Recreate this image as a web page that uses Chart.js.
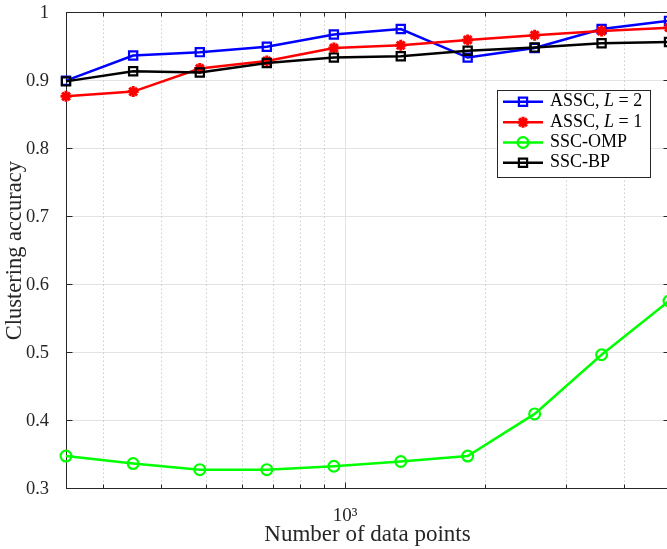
<!DOCTYPE html>
<html>
<head>
<meta charset="utf-8">
<title>Clustering accuracy</title>
<script src="https://cdn.jsdelivr.net/npm/chart.js@4.4.1/dist/chart.umd.min.js"></script>
<style>
  html, body { margin: 0; padding: 0; background: #fff; overflow: hidden; }
  #wrap { width: 667px; height: 549px; overflow: hidden; }
  #acc { display: block; }
</style>
</head>
<body>
<div id="wrap"><canvas id="acc" width="672" height="549"></canvas></div>
<script>
// number of data points (log spaced, 250 .. 5000)
const nPoints = [250, 349, 486, 678, 946, 1319, 1839, 2565, 3577, 5000];

// clustering accuracy for each method
const assc2  = [0.900, 0.937, 0.942, 0.950, 0.968, 0.976, 0.934, 0.948, 0.976, 0.988];
const assc1  = [0.877, 0.884, 0.918, 0.929, 0.948, 0.952, 0.960, 0.967, 0.973, 0.978];
const sscOmp = [0.348, 0.337, 0.328, 0.328, 0.333, 0.340, 0.348, 0.410, 0.497, 0.576];
const sscBp  = [0.899, 0.914, 0.912, 0.926, 0.934, 0.936, 0.944, 0.949, 0.955, 0.957];

// ticks: minor decade ticks on x, only 10^3 gets a label
const xTicks = [300, 400, 500, 600, 700, 800, 900, 1000, 2000, 3000, 4000];
const xMajor = [1000];
const xTickLabels = { 1000: '10³' };
const yTicks = [0.3, 0.4, 0.5, 0.6, 0.7, 0.8, 0.9, 1];

const SERIF = '"Liberation Serif", "Times New Roman", serif';
const AXIS = '#262626';

const pts = ys => nPoints.map((x, i) => ({ x: x, y: ys[i] }));

// grid, box and inward tick marks (matlab look), drawn under the lines
const frame = {
  id: 'frame',
  beforeDatasetsDraw(chart) {
    const { ctx, chartArea: a, scales: { x, y } } = chart;
    const L = Math.round(a.left) + 0.5, R = Math.round(a.right) + 0.5;
    const T = Math.floor(a.top) + 0.5, B = Math.floor(a.bottom) + 0.5;
    const seg = (x1, y1, x2, y2) => { ctx.beginPath(); ctx.moveTo(x1, y1); ctx.lineTo(x2, y2); ctx.stroke(); };
    ctx.save();
    ctx.lineWidth = 1;

    ctx.strokeStyle = '#e3e3e3';
    yTicks.forEach(v => {
      const py = Math.floor(y.getPixelForValue(v)) + 0.5;
      seg(L, py, R, py);
    });
    xTicks.forEach(v => {
      const px = Math.round(x.getPixelForValue(v)) + 0.5;
      if (xMajor.includes(v)) {
        ctx.strokeStyle = '#e3e3e3';
        ctx.setLineDash([]);
      } else {
        ctx.strokeStyle = '#cdcdcd';
        ctx.setLineDash([1.5, 2.5]);
      }
      seg(px, T, px, B);
    });
    ctx.setLineDash([]);

    ctx.strokeStyle = AXIS;
    ctx.strokeRect(L, T, R - L, B - T);
    yTicks.forEach(v => {
      const py = Math.floor(y.getPixelForValue(v)) + 0.5;
      seg(L, py, L + 6, py);
      seg(R, py, R - 6, py);
    });
    xTicks.forEach(v => {
      const px = Math.round(x.getPixelForValue(v)) + 0.5;
      const len = xMajor.includes(v) ? 6 : 4;
      seg(px, B, px, B - len);
      seg(px, T, px, T + len);
    });
    ctx.restore();
  },
  afterDatasetsDraw(chart) {
    const { ctx } = chart;
    const box = { x: 497.5, y: 90.5, w: 153, h: 87 };
    const rows = [101.7, 122.3, 142.5, 162.7];
    ctx.save();
    ctx.fillStyle = '#fff';
    ctx.fillRect(box.x, box.y, box.w, box.h);
    ctx.strokeStyle = AXIS;
    ctx.lineWidth = 1;
    ctx.strokeRect(box.x, box.y, box.w, box.h);

    chart.data.datasets.forEach((ds, i) => {
      const cy = rows[i];
      ctx.strokeStyle = ds.borderColor;
      ctx.lineWidth = ds.borderWidth;
      ctx.beginPath();
      ctx.moveTo(503, cy);
      ctx.lineTo(543, cy);
      ctx.stroke();
      ctx.fillStyle = ds.pointBackgroundColor;
      ctx.lineWidth = ds.pointBorderWidth;
      Chart.helpers.drawPoint(ctx, {
        pointStyle: ds.pointStyle, radius: ds.pointRadius, rotation: 0, borderWidth: ds.pointBorderWidth
      }, 523, cy);

      // label, with the L of "L = n" set in italics
      ctx.fillStyle = '#000';
      ctx.textBaseline = 'middle';
      let tx = 550;
      const m = ds.label.match(/^(.*?)(L)( = .*)$/);
      const parts = m ? [[m[1], ''], [m[2], 'italic '], [m[3], '']] : [[ds.label, '']];
      parts.forEach(([s, style]) => {
        ctx.font = style + '18px ' + SERIF;
        ctx.fillText(s, tx, cy);
        tx += ctx.measureText(s).width;
      });
    });
    ctx.restore();
  }
};

new Chart(document.getElementById('acc'), {
  type: 'line',
  data: {
    datasets: [{
      label: 'ASSC, L = 2',
      data: pts(assc2),
      borderColor: '#0000ff',
      borderWidth: 2.5,
      pointStyle: 'rect',
      pointRadius: 5.8,
      pointBorderWidth: 2.2,
      pointBorderColor: '#0000ff',
      pointBackgroundColor: 'rgba(0,0,0,0)',
      order: 3
    }, {
      label: 'ASSC, L = 1',
      data: pts(assc1),
      borderColor: '#ff0000',
      borderWidth: 2.5,
      pointStyle: 'star',
      pointRadius: 5.5,
      pointBorderWidth: 3,
      pointBorderColor: '#ff0000',
      pointBackgroundColor: '#ff0000',
      order: 2
    }, {
      label: 'SSC-OMP',
      data: pts(sscOmp),
      borderColor: '#00ff00',
      borderWidth: 2.5,
      pointStyle: 'circle',
      pointRadius: 5.4,
      pointBorderWidth: 2.2,
      pointBorderColor: '#00ff00',
      pointBackgroundColor: 'rgba(0,0,0,0)',
      order: 1
    }, {
      label: 'SSC-BP',
      data: pts(sscBp),
      borderColor: '#000000',
      borderWidth: 2.5,
      pointStyle: 'rect',
      pointRadius: 5.8,
      pointBorderWidth: 2.2,
      pointBorderColor: '#000000',
      pointBackgroundColor: 'rgba(0,0,0,0)',
      order: 0
    }]
  },
  options: {
    responsive: false,
    animation: false,
    devicePixelRatio: 1,
    clip: false,
    elements: { line: { tension: 0 } },
    layout: { autoPadding: false, padding: { top: 12.7, right: 3, bottom: 0, left: 0 } },
    plugins: { legend: { display: false }, tooltip: { enabled: false } },
    scales: {
      x: {
        type: 'logarithmic',
        min: 250,
        max: 5000,
        afterBuildTicks: s => { s.ticks = xTicks.map(v => ({ value: v, major: xMajor.includes(v) })); },
        afterFit: s => { s.height = 60.3; s.paddingLeft = 0; s.paddingRight = 0; },
        grid: { display: false },
        border: { display: false },
        ticks: {
          autoSkip: false,
          maxRotation: 0,
          padding: 8,
          color: AXIS,
          font: { family: SERIF, size: 19 },
          callback: v => xTickLabels[v] || ''
        },
        title: {
          display: true,
          text: 'Number of data points',
          color: AXIS,
          font: { family: SERIF, size: 23 },
          padding: { top: 0, bottom: 0 }
        }
      },
      y: {
        min: 0.3,
        max: 1,
        afterBuildTicks: s => { s.ticks = yTicks.map(v => ({ value: v })); },
        afterFit: s => { s.width = 66; s.paddingTop = 0; s.paddingBottom = 0; },
        grid: { display: false },
        border: { display: false },
        ticks: {
          padding: 9,
          color: AXIS,
          font: { family: SERIF, size: 18.5 },
          callback: v => (v === 1 ? '1' : v.toFixed(1))
        },
        title: {
          display: true,
          text: 'Clustering accuracy',
          color: AXIS,
          font: { family: SERIF, size: 22.5 },
          padding: { top: 1.5, bottom: 0 }
        }
      }
    }
  },
  plugins: [frame]
});
</script>
</body>
</html>
